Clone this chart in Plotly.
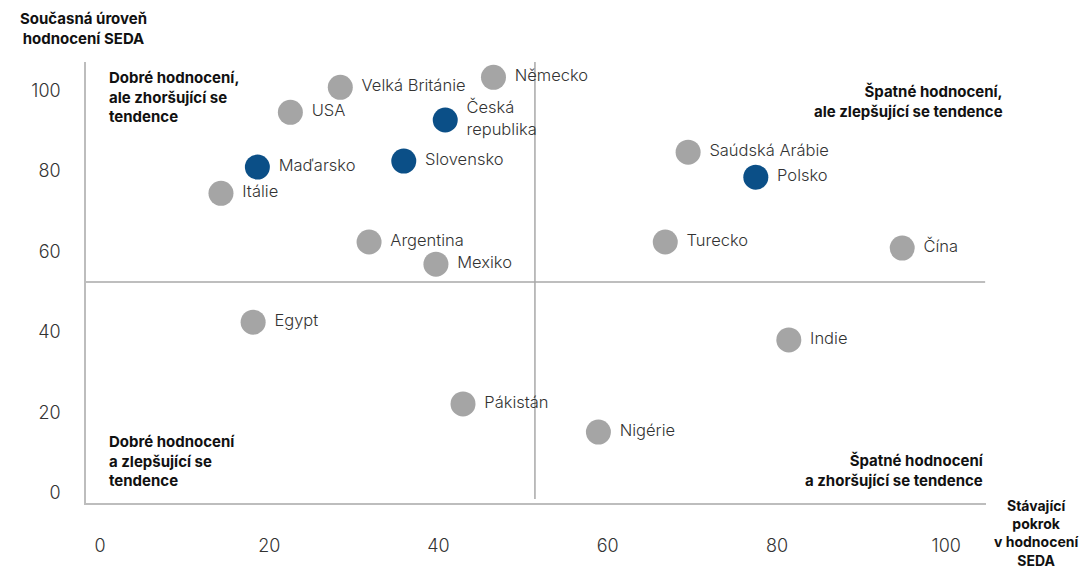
import plotly.graph_objects as go

countries = ["Německo", "Velká Británie", "USA", "Česká<br>republika", "Maďarsko", "Slovensko",
             "Itálie", "Argentina", "Mexiko", "Saúdská Arábie", "Polsko", "Turecko", "Čína",
             "Egypt", "Indie", "Pákistán", "Nigérie"]
progress = [46.5, 28.4, 22.5, 40.8, 18.6, 35.9, 14.3, 31.8, 39.7, 69.5, 77.5, 66.8, 94.8,
            18.1, 81.4, 42.9, 58.9]
level = [103.2, 100.7, 94.5, 92.6, 80.9, 82.4, 74.4, 62.3, 56.8, 84.6, 78.4, 62.3, 60.8,
         42.4, 38.0, 22.1, 15.1]
highlight = [False, False, False, True, True, True, False, False, False, False, True, False, False,
             False, False, False, False]
tick_vals = [0, 20, 40, 60, 80, 100]
x_split = 51.4
y_split = 52.4

GRAY = "#a5a5a5"
BLUE = "#0b4f87"
FONT = "Inter"

colors = [BLUE if h else GRAY for h in highlight]

fig = go.Figure()
fig.add_trace(go.Scatter(
    x=progress, y=level, mode="markers+text", text=[" " + c.replace("<br>", "<br> ") for c in countries],
    textposition="middle right",
    marker=dict(size=25, color=colors, line=dict(width=0)),
    textfont=dict(family=FONT, size=16.5, color="#333333", weight=300),
    cliponaxis=False, hoverinfo="skip", showlegend=False,
))

fig.add_shape(type="line", xref="x", yref="y", x0=x_split, x1=x_split, y0=-1.5, y1=107,
              line=dict(color="#a8a8a8", width=1.5), layer="below")
fig.add_shape(type="line", xref="x", yref="y", x0=-1.65, x1=104.6, y0=y_split, y1=y_split,
              line=dict(color="#a8a8a8", width=1.5), layer="below")

bold = dict(family=FONT, size=15, color="#111111", weight=700)
fig.add_annotation(xref="paper", yref="paper", x=0.0233, y=0.99, xanchor="left", yanchor="top",
                   align="left", showarrow=False, font=bold,
                   text="Dobré hodnocení,<br>ale zhoršující se<br>tendence")
fig.add_annotation(xref="paper", yref="paper", x=1.021, y=0.96, xanchor="right", yanchor="top",
                   align="right", showarrow=False, font=bold,
                   text="Špatné hodnocení,<br>ale zlepšující se tendence")
fig.add_annotation(xref="paper", yref="paper", x=0.0233, y=0.025, xanchor="left", yanchor="bottom",
                   align="left", showarrow=False, font=bold,
                   text="Dobré hodnocení<br>a zlepšující se<br>tendence")
fig.add_annotation(xref="paper", yref="paper", x=1.0, y=0.025, xanchor="right", yanchor="bottom",
                   align="right", showarrow=False, font=bold,
                   text="Špatné hodnocení<br>a zhoršující se tendence")
fig.add_annotation(xref="paper", yref="paper", x=-0.0033, y=1.125, xanchor="center", yanchor="top",
                   align="center", showarrow=False, font=bold,
                   text="Současná úroveň<br>hodnocení SEDA")
fig.add_annotation(xref="paper", yref="paper", x=1.056, y=-0.155, xanchor="center", yanchor="bottom",
                   align="center", showarrow=False, font=dict(family=FONT, size=14, color="#111111", weight=700),
                   text="Stávající<br>pokrok<br>v hodnocení<br>SEDA")

axis_font = dict(family=FONT, size=18, color="#333333", weight=300)
fig.update_layout(
    width=1081, height=564,
    margin=dict(l=78, r=103, t=54, b=69),
    paper_bgcolor="white", plot_bgcolor="white",
    xaxis=dict(range=[-1.65, 104.7], tickvals=tick_vals, showgrid=False, zeroline=False,
               showline=True, linecolor="#bdbdbd", linewidth=1.5, ticks="",
               tickfont=axis_font, ticklabelstandoff=26),
    yaxis=dict(range=[-2.5, 107], tickvals=tick_vals, showgrid=False, zeroline=False,
               showline=True, linecolor="#bdbdbd", linewidth=1.5, ticks="",
               tickfont=axis_font, ticklabelstandoff=20),
)

fig.write_html("out.html")
